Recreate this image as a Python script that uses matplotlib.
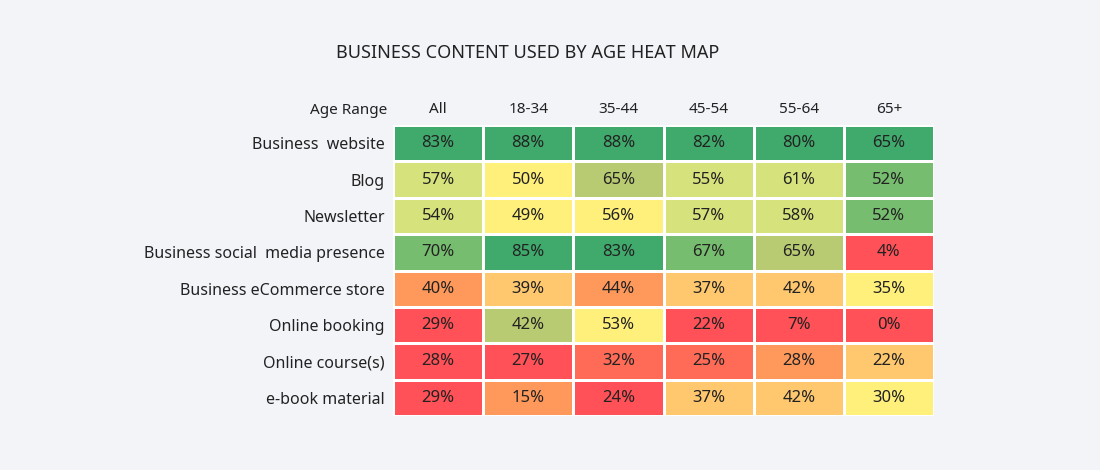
import numpy as np
import matplotlib
matplotlib.use('Agg')
from matplotlib import pyplot as plt
from matplotlib.colors import ListedColormap, BoundaryNorm

plt.rcParams['font.family'] = ['Noto Sans', 'DejaVu Sans']

title = 'BUSINESS CONTENT USED BY AGE HEAT MAP'
columns = ['All', '18-34', '35-44', '45-54', '55-64', '65+']
rows = ['Business  website', 'Blog', 'Newsletter', 'Business social  media presence',
        'Business eCommerce store', 'Online booking', 'Online course(s)', 'e-book material']
values = [
    [83, 88, 88, 82, 80, 65],
    [57, 50, 65, 55, 61, 52],
    [54, 49, 56, 57, 58, 52],
    [70, 85, 83, 67, 65, 4],
    [40, 39, 44, 37, 42, 35],
    [29, 42, 53, 22, 7, 0],
    [28, 27, 32, 25, 28, 22],
    [29, 15, 24, 37, 42, 30],
]
# colour band of each cell as drawn in the source (0 = red ... 8 = green)
levels = [
    [8, 8, 8, 8, 8, 8],
    [5, 4, 6, 5, 5, 7],
    [5, 4, 4, 5, 5, 7],
    [7, 8, 8, 7, 6, 0],
    [2, 3, 2, 3, 3, 4],
    [0, 6, 4, 0, 0, 0],
    [0, 0, 1, 1, 2, 3],
    [0, 2, 0, 3, 3, 4],
]
palette = ['#ff5157', '#ff6b57', '#ff995b', '#ffc86e', '#fff07c',
           '#d6e27c', '#b8cb72', '#77bd6f', '#3faa6b']

bg = '#f3f4f8'
fig = plt.figure(figsize=(11, 4.7), dpi=100, facecolor=bg)
ax = fig.add_axes([393/1100, 54/470, 541/1100, 291/470])
ax.set_facecolor(bg)

cmap = ListedColormap(palette)
norm = BoundaryNorm(np.arange(-0.5, len(palette)), len(palette))
lv = np.array(levels)
ax.pcolormesh(np.arange(len(columns) + 1), np.arange(len(rows) + 1), lv,
              cmap=cmap, norm=norm, edgecolors='white', linewidth=1)
ax.set_xlim(0, len(columns))
ax.set_ylim(len(rows), 0)

for i, r in enumerate(values):
    for j, v in enumerate(r):
        ax.text(j + 0.5, i + 0.5, f'{v}%', ha='center', va='center',
                fontsize=12, fontweight='bold', color='#222222')

ax.set_yticks(np.arange(len(rows)) + 0.5)
ax.set_yticklabels(rows, fontsize=11.5, color='#222222')
ax.xaxis.tick_top()
ax.set_xticks(np.arange(len(columns)) + 0.5)
ax.set_xticklabels(columns, fontsize=11, fontweight='bold', color='#222222')
ax.tick_params(length=0, pad=6)
for s in ax.spines.values():
    s.set_visible(False)

fig.text(393/1100 - 6/1100, 1 - 110/470, 'Age Range', ha='right', va='center',
         fontsize=11, fontweight='bold', color='#222222')
fig.text(528/1100, 1 - 53/470, title, ha='center', va='center',
         fontsize=13, fontweight='bold', color='#222222')

fig.savefig('out.png', facecolor=bg)
